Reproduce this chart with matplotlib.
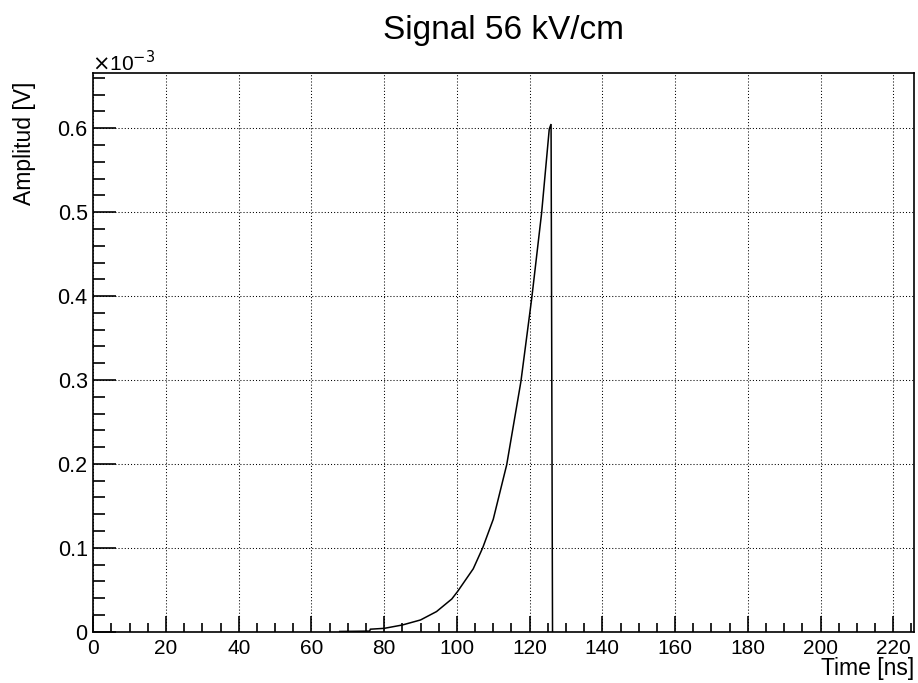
import matplotlib
matplotlib.use("Agg")
import matplotlib.pyplot as plt
from matplotlib.ticker import MultipleLocator, FixedLocator

plt.rcParams['font.family'] = ['Liberation Sans', 'DejaVu Sans']

# Induced signal: time in ns, amplitude in units of 1e-3 V
time_ns = [67.8, 72.0, 76.0, 76.2, 80.0, 85.0, 90.0, 94.4, 98.6, 100.2,
           104.5, 107.1, 110.0, 113.7, 117.6, 120.6, 123.3, 125.4, 125.9, 126.3]
amp_mV = [0.0003, 0.0005, 0.0007, 0.003, 0.004, 0.008, 0.014, 0.024, 0.039, 0.048,
          0.075, 0.100, 0.134, 0.199, 0.298, 0.398, 0.499, 0.599, 0.605, 0.0]

x_ticks = [0, 20, 40, 60, 80, 100, 120, 140, 160, 180, 200, 220]
y_ticks = [0, 0.1, 0.2, 0.3, 0.4, 0.5, 0.6]
y_tick_labels = ["0", "0.1", "0.2", "0.3", "0.4", "0.5", "0.6"]

fig = plt.figure(figsize=(9.18, 6.83), dpi=100)
ax = fig.add_axes([0.1016, 0.0751, 0.8944, 0.8176])

ax.plot(time_ns, amp_mV, color='black', lw=1.1, solid_joinstyle='miter')

ax.set_xlim(0, 225.8)
ax.set_ylim(0, max(amp_mV) * 1.1)

ax.xaxis.set_major_locator(FixedLocator(x_ticks))
ax.xaxis.set_minor_locator(MultipleLocator(5))
ax.yaxis.set_major_locator(FixedLocator(y_ticks))
ax.yaxis.set_minor_locator(MultipleLocator(0.02))
ax.set_yticklabels(y_tick_labels)

ax.tick_params(axis='both', which='both', direction='in', top=False, right=False,
               labelsize=15.5, width=1.2, color='black')
ax.tick_params(axis='x', which='major', length=11.5, pad=5.5, labelsize=15)
ax.tick_params(axis='x', which='minor', length=6.5)
ax.tick_params(axis='y', which='major', length=16.5, pad=4)
ax.tick_params(axis='y', which='minor', length=8.5)

for sp in ax.spines.values():
    sp.set_linewidth(1.2)
    sp.set_color('black')

ax.grid(True, which='major', color='black', linestyle=(0, (1, 2)), lw=0.75)
ax.set_axisbelow(False)

fig.text(0.549, 1 - 39 / 683, "Signal 56 kV/cm", ha='center', va='baseline', fontsize=24)
fig.text(0.996, 1 - 680 / 683, "Time [ns]", ha='right', va='bottom', fontsize=16.5)
fig.text(24 / 918, 1 - 82 / 683, "Amplitud [V]", ha='center', va='top',
         rotation=90, fontsize=16.5)
fig.text(92 / 918, 1 - 71 / 683, r"$\times$10$^{-3}$", ha='left', va='baseline', fontsize=15)

fig.savefig("out.png", dpi=100, facecolor='white')
